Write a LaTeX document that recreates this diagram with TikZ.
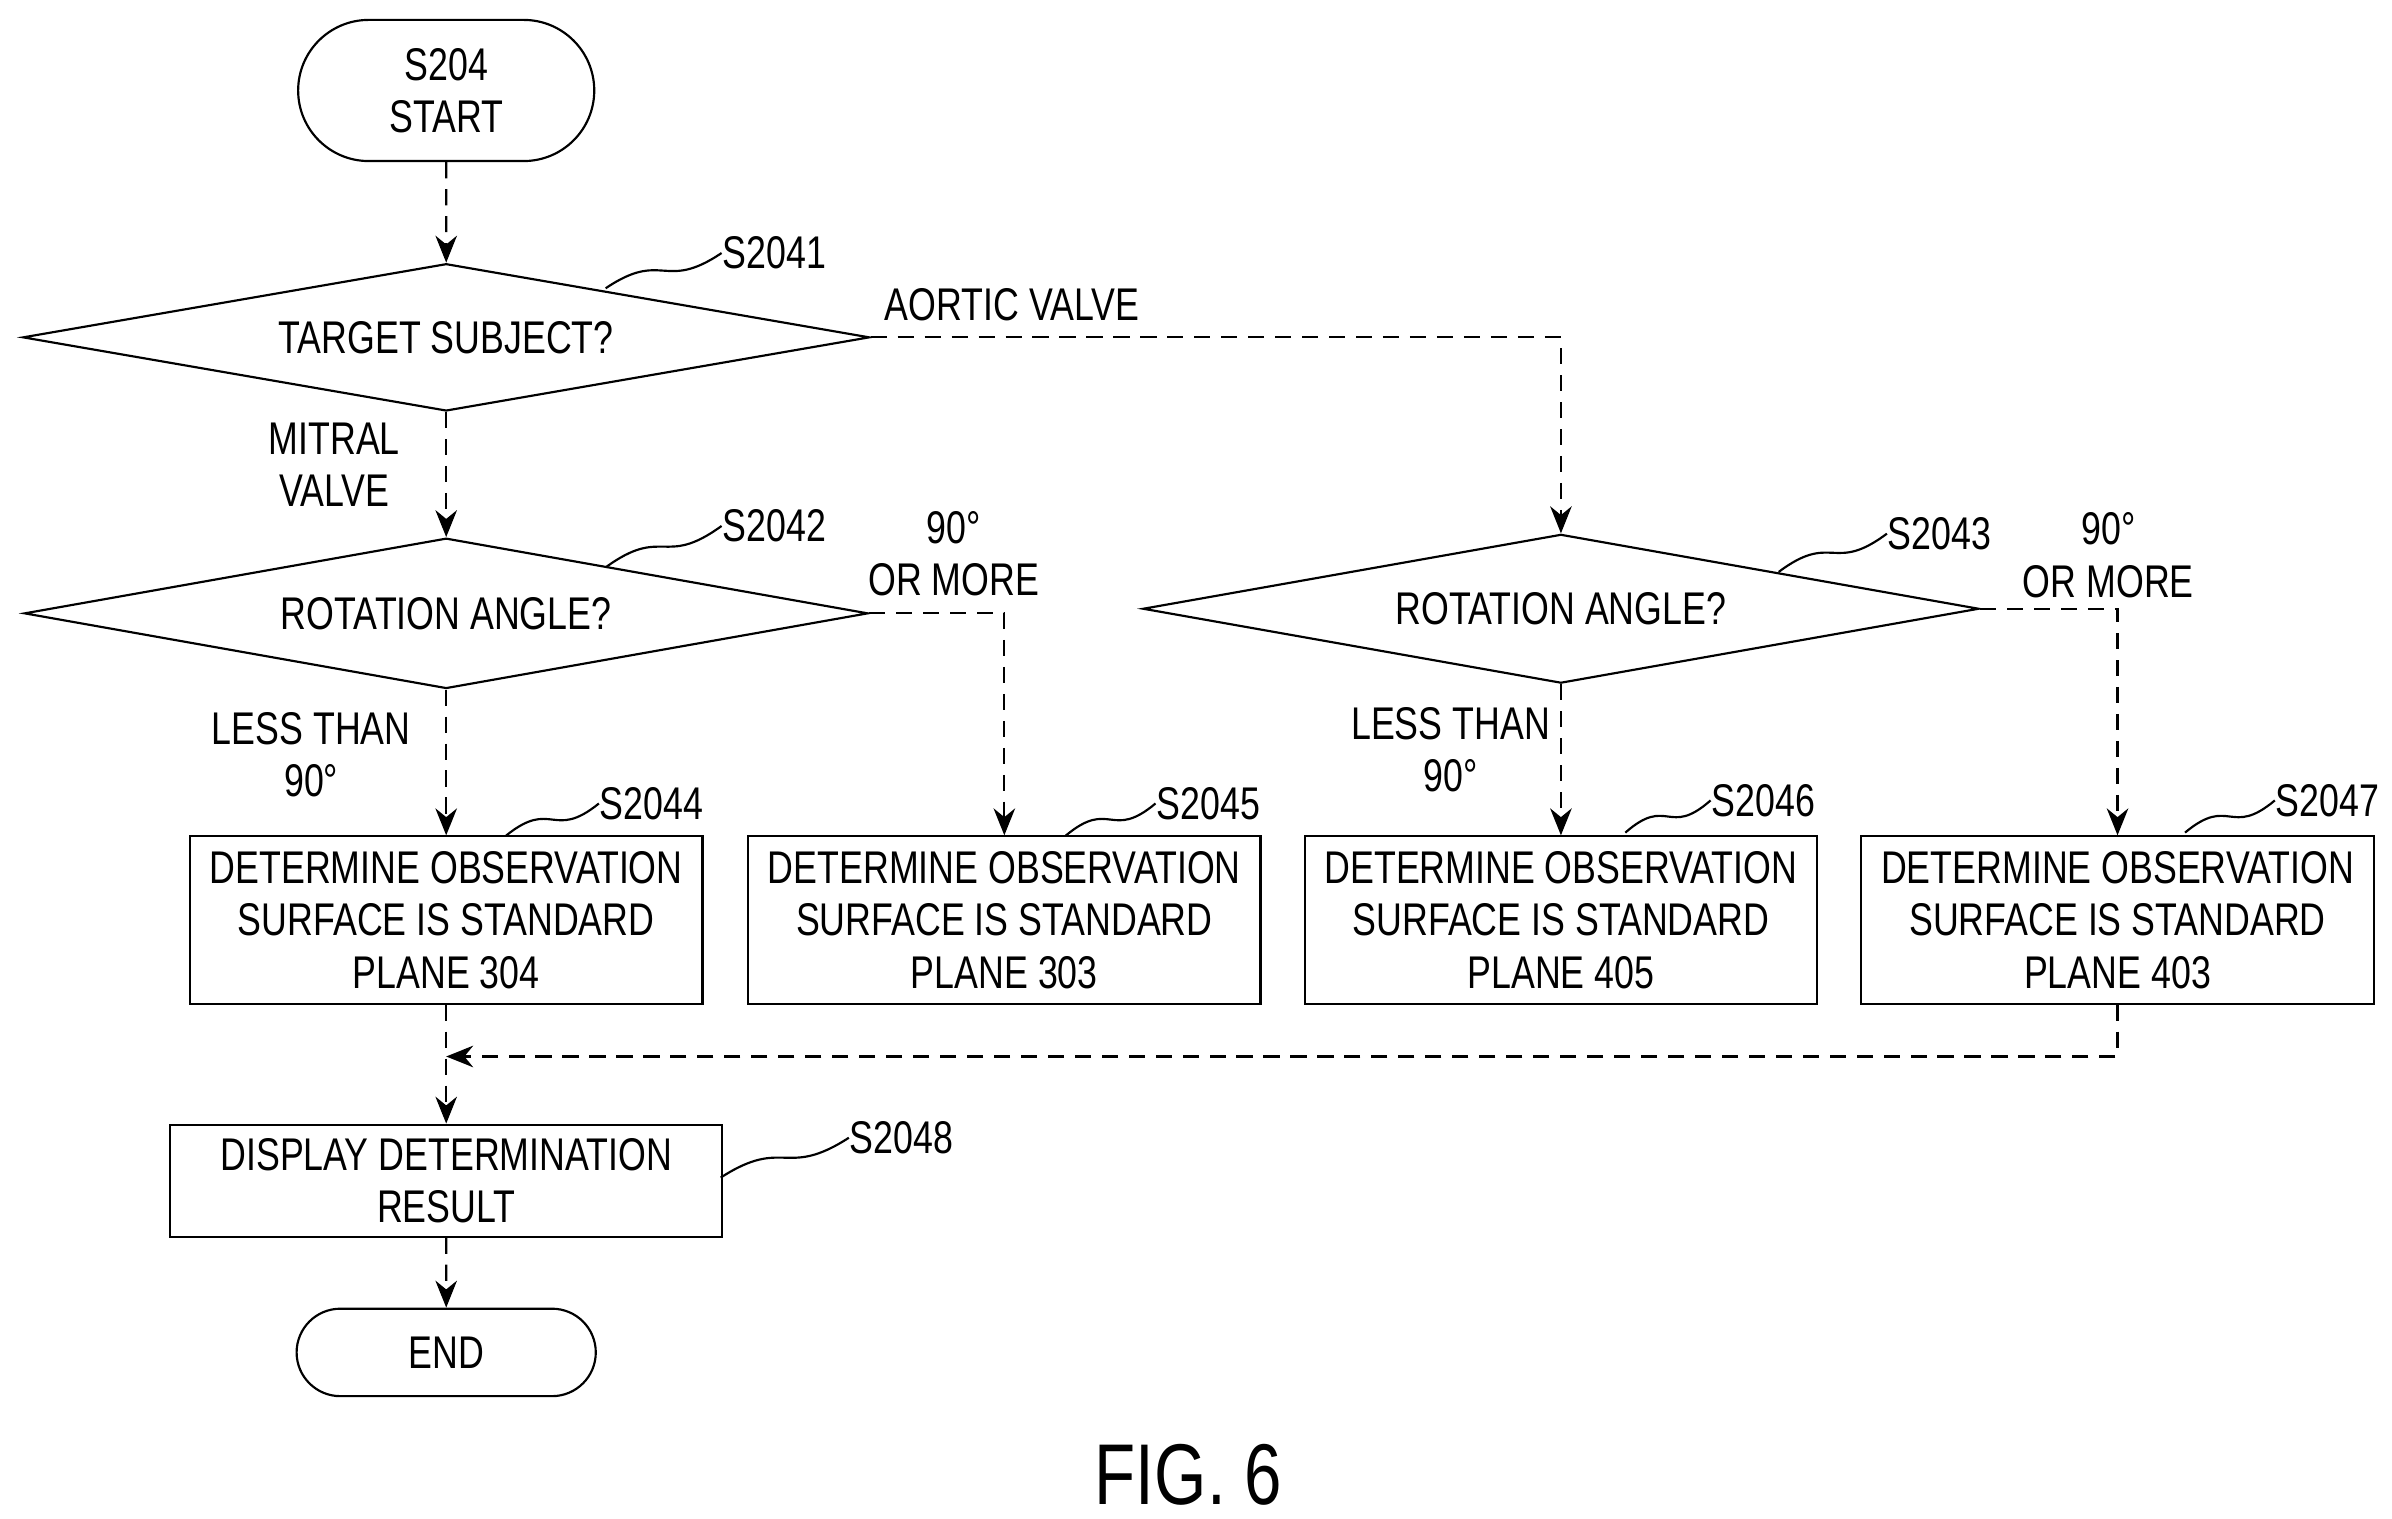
\documentclass[tikz,border=0pt]{standalone}
\usepackage{fontspec}
\setmainfont[FakeStretch=0.78]{Liberation Sans}
\usetikzlibrary{shapes.geometric,shapes.misc,arrows.meta,calc}
\begin{document}
\begin{tikzpicture}[x=0.01cm,y=-0.01cm,
  every node/.style={font=\fontsize{8.5}{9.7}\selectfont, inner sep=0pt},
  box/.style={draw, thin, align=center},
  ln/.style={thin, densely dashed},
  arr/.style={ln, -{Stealth[length=5pt,width=4pt]}},
  sq/.style={thin}]
\useasboundingbox (0,0) rectangle (1560,990);
\node[box, rounded rectangle, minimum width=1.93cm, minimum height=0.92cm] (s) at (291,59) {S204\\START};
\node[box, diamond, aspect=5.75, minimum width=5.52cm, minimum height=0.96cm] (d1) at (291,220) {TARGET SUBJECT?};
\node[box, diamond, aspect=5.6, minimum width=5.5cm, minimum height=0.98cm] (d2) at (291,400) {ROTATION ANGLE?};
\node[box, diamond, aspect=5.6, minimum width=5.45cm, minimum height=0.97cm] (d3) at (1018,397) {ROTATION ANGLE?};
\foreach \n/\x/\t in {b1/291/304, b2/655/303, b3/1018/405, b4/1381/403}
  \node[box, minimum width=3.34cm, minimum height=1.09cm] (\n) at (\x,600) {DETERMINE OBSERVATION\\SURFACE IS STANDARD\\PLANE \t};
\node[box, minimum width=3.6cm, minimum height=0.73cm] (disp) at (291,770) {DISPLAY DETERMINATION\\RESULT};
\node[box, rounded rectangle, minimum width=1.95cm, minimum height=0.57cm] (e) at (291,882) {END};
\node[font=\fontsize{16}{18}\selectfont] (fig) at (775,962) {FIG. 6};
% connectors
\draw[arr] (s) -- (d1);
\draw[arr] (d1) -- (d2);
\draw[arr] (d1.east) -| (d3.north);
\draw[arr] (d2) -- (b1);
\draw[arr] (d2.east) -| (b2.north);
\draw[arr] (d3) -- (b3);
\draw[arr] (d3.east) -| (b4.north);
\coordinate (m) at (291,689);
\draw[arr] (b4.south) |- (m);
\draw[arr] (b1) -- (disp);
\draw[arr] (disp) -- (e);
% branch labels
\node[align=center] (l1) at (660,199) {AORTIC VALVE};
\node[align=center] (l2) at (218,303) {MITRAL\\VALVE};
\node[align=center] (l3) at (622,361) {90°\\OR MORE};
\node[align=center] (l4) at (203,492) {LESS THAN\\90°};
\node[align=center] (l5) at (1375,362) {90°\\OR MORE};
\node[align=center] (l6) at (946,489) {LESS THAN\\90°};
% step labels with squiggles
\foreach \n/\ax/\ay/\lx/\ly/\t in {q1/395/188/505/165/S2041, q2/395/370/505/343/S2042, q3/1160/373/1265/348/S2043,
  q4/330/545/425/524/S2044, q5/695/545/788/524/S2045, q6/1060/543/1150/522/S2046, q7/1425/543/1518/522/S2047, q8/470/768/588/742/S2048}{
  \node (\n) at (\lx,\ly) {\t};
  \draw[sq] (\ax,\ay) .. controls ($(\ax,\ay)!0.5!(\n.west)+(0,-14)$) and ($(\ax,\ay)!0.5!(\n.west)+(0,14)$) .. (\n.west);
}
\end{tikzpicture}
\end{document}
